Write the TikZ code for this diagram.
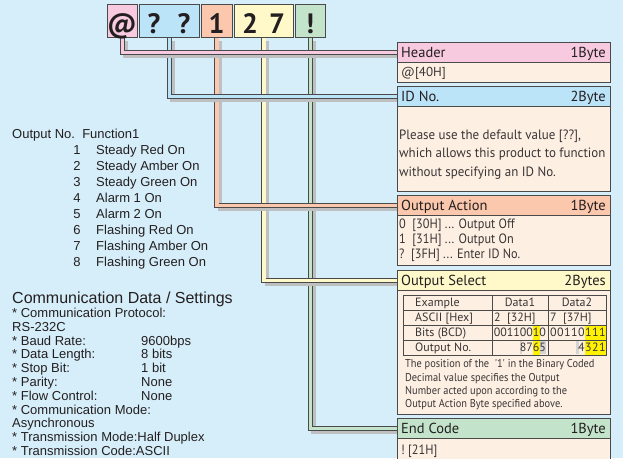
\documentclass[tikz,border=0pt]{standalone}
\usepackage{fontspec}
\setmainfont{Liberation Sans}
\newfontfamily\myr{PT Sans}
\newfontfamily\myrc[FakeStretch=0.91]{PT Sans}
\newfontfamily\myrd[FakeStretch=0.96]{PT Sans}
\definecolor{bgC}{HTML}{D6EEF9}
\definecolor{bdrC}{HTML}{4A4A4A}
\definecolor{shC}{HTML}{BDBFC1}
\definecolor{txtC}{HTML}{231F20}
\definecolor{ctxC}{HTML}{3A3535}
\definecolor{pinkC}{HTML}{F8CADF}
\definecolor{blueC}{HTML}{BCE4F8}
\definecolor{salmonC}{HTML}{FBC7AD}
\definecolor{yellowC}{HTML}{FFF9CA}
\definecolor{greenC}{HTML}{C3E4CA}
\definecolor{peachC}{HTML}{FDF0E3}
\definecolor{hiC}{HTML}{FFF200}
\definecolor{lgC}{HTML}{D4D4D4}
\begin{document}
\begin{tikzpicture}[x=1pt,y=-1pt,
  topbox/.style={draw=bdrC,line width=0.8pt,minimum height=33pt,inner sep=0pt,anchor=north west},
  bigchar/.style={font=\myr\bfseries\fontsize{28}{28}\selectfont,text=txtC,anchor=base,inner sep=0pt},
  wire/.style={draw=bdrC,line width=0.8pt,double distance=3.4pt},
  wshadow/.style={draw=shC,line width=4.5pt,transform canvas={xshift=3pt,yshift=-3pt}},
  tbar/.style={draw=bdrC,line width=0.8pt,minimum width=213pt,minimum height=20pt,inner sep=0pt,anchor=north west},
  cbox/.style={draw=bdrC,line width=0.8pt,fill=peachC,minimum width=213pt,inner sep=0pt,anchor=north west},
  ttl/.style={font=\myr\fontsize{14.5}{14.5}\selectfont,text=txtC,inner sep=0pt},
  ctext/.style={font=\myrc\fontsize{13.5}{13.5}\selectfont,text=ctxC,inner sep=0pt,anchor=base west},
  dtext/.style={font=\myrd\fontsize{13.5}{13.5}\selectfont,text=ctxC,inner sep=0pt,anchor=base west},
  stext/.style={font=\myrc\fontsize{11.4}{11.4}\selectfont,text=ctxC,inner sep=0pt,anchor=base west},
  tabtext/.style={font=\myr\fontsize{12}{12}\selectfont,text=ctxC,inner sep=0pt},
  ltext/.style={font=\fontsize{13}{13}\selectfont,text=txtC,inner sep=0pt,anchor=base west},
  tabline/.style={draw=bdrC,line width=0.9pt}]
\useasboundingbox (0,0) rectangle (623,458);
\fill[bgC] (0,0) rectangle (623,458);

% ---------- right title bars and top boxes (named first) ----------
\path
  node[tbar,fill=pinkC]   (hA) at (397,42)  {}
  node[tbar,fill=blueC]   (hB) at (397,86)  {}
  node[tbar,fill=salmonC] (hC) at (397,195) {}
  node[tbar,fill=yellowC] (hD) at (397,270) {}
  node[tbar,fill=greenC]  (hE) at (397,418) {};
\path
  node[topbox,fill=pinkC,minimum width=30pt]   (tA) at (107,4) {}
  node[topbox,fill=blueC,minimum width=60pt]   (tB) at (139,4) {}
  node[topbox,fill=salmonC,minimum width=31pt] (tC) at (201,4) {}
  node[topbox,fill=yellowC,minimum width=59pt] (tD) at (234,4) {}
  node[topbox,fill=greenC,minimum width=30pt]  (tE) at (295,4) {};

% ---------- wires ----------
\draw[wshadow] (tE.south) |- (hE.west);
\draw[wire,double=greenC] (tE.south) |- (hE.west);
\draw[wshadow] (tD.south) |- (hD.west);
\draw[wire,double=yellowC] (tD.south) |- (hD.west);
\draw[wshadow] (tC.south) |- (hC.west);
\draw[wire,double=salmonC] (tC.south) |- (hC.west);
\draw[wshadow] (tB.south) |- (hB.west);
\draw[wire,double=blueC] (tB.south) |- (hB.west);
\draw[wshadow] (tA.south) |- (hA.west);
\draw[wire,double=pinkC] (tA.south) |- (hA.west);

% ---------- top boxes redrawn over wire ends ----------
\path
  node[topbox,fill=pinkC,minimum width=30pt]   (tA2) at (107,4) {}
  node[topbox,fill=blueC,minimum width=60pt]   (tB2) at (139,4) {}
  node[topbox,fill=salmonC,minimum width=31pt] (tC2) at (201,4) {}
  node[topbox,fill=yellowC,minimum width=59pt] (tD2) at (234,4) {}
  node[topbox,fill=greenC,minimum width=30pt]  (tE2) at (295,4) {};
\node[bigchar] (cAt) at (122,33) {@};
\node[bigchar] (cQ1) at (154,33) {?};
\node[bigchar] (cQ2) at (184,33) {?};
\node[bigchar] (c1) at (216.5,33) {1};
\node[bigchar] (c2) at (250,33) {2};
\node[bigchar] (c7) at (277,33) {7};
\node[bigchar] (cEx) at (310,33) {!};

% ---------- right boxes ----------
\node[cbox,minimum height=20pt]  (bA) at (397,62)  {};
\node[cbox,minimum height=85pt]  (bB) at (397,106) {};
\node[cbox,minimum height=50pt]  (bC) at (397,215) {};
\node[cbox,minimum height=124pt] (bD) at (397,290) {};
\node[cbox,minimum height=40pt]  (bE) at (397,438) {};
\path
  node[tbar,fill=pinkC]   (hA3) at (397,42)  {}
  node[tbar,fill=blueC]   (hB3) at (397,86)  {}
  node[tbar,fill=salmonC] (hC3) at (397,195) {}
  node[tbar,fill=yellowC] (hD3) at (397,270) {}
  node[tbar,fill=greenC]  (hE3) at (397,418) {};

\node[ttl,anchor=base west] (lA) at (401,57) {Header};
\node[ttl,anchor=base east] (rA) at (606,57) {1Byte};
\node[ttl,anchor=base west] (lB) at (401,101) {ID No.};
\node[ttl,anchor=base east] (rB) at (606,101) {2Byte};
\node[ttl,anchor=base west] (lC) at (401,210) {Output Action};
\node[ttl,anchor=base east] (rC) at (606,210) {1Byte};
\node[ttl,anchor=base west] (lD) at (401,285) {Output Select};
\node[ttl,anchor=base east] (rD) at (606,285) {2Bytes};
\node[ttl,anchor=base west] (lE) at (401,433) {End Code};
\node[ttl,anchor=base east] (rE) at (606,433) {1Byte};

\node[ctext,font=\myr\fontsize{13}{13}\selectfont] (xA) at (401,76.5) {@[40H]};
\node[dtext] (xB1) at (399,139) {Please use the default value [??],};
\node[dtext] (xB2) at (399,157.5) {which allows this product to function};
\node[dtext] (xB3) at (399,176) {without specifying an ID No.};
\node[ctext] (xC1) at (399,228) {0\ \ [30H] ... Output Off};
\node[ctext] (xC2) at (399,243) {1\ \ [31H] ... Output On};
\node[ctext] (xC3) at (399,258) {?\ \ [3FH] ... Enter ID No.};
\node[ctext] (xE) at (401,454) {!\ [21H]};

% ---------- table ----------
\fill[hiC] (533,325) rectangle (539.5,340);
\fill[hiC] (533,340) rectangle (539.5,355);
\fill[hiC] (585,325) rectangle (606,340);
\fill[hiC] (585,340) rectangle (606,355);
\fill[lgC] (519.5,341) rectangle (522,354);
\fill[lgC] (539.5,341) rectangle (546,354);
\fill[lgC] (576,341) rectangle (578.5,354);
\draw[tabline] (403,295) rectangle (606,355);
\draw[tabline] (403,310) -- (606,310);
\draw[tabline] (403,325) -- (606,325);
\draw[tabline] (403,340) -- (606,340);
\draw[tabline] (492,295) -- (492,355);
\draw[tabline] (548,295) -- (548,355);

\node[tabtext,anchor=base west] (r1) at (415,306.5) {Example};
\node[tabtext,anchor=base west] (r2) at (415,321.5) {ASCII [Hex]};
\node[tabtext,anchor=base west] (r3) at (415,336.5) {Bits (BCD)};
\node[tabtext,anchor=base west] (r4) at (415,351.5) {Output No.};
\node[tabtext,anchor=base] (d1h) at (520,306.5) {Data1};
\node[tabtext,anchor=base] (d2h) at (577,306.5) {Data2};
\node[tabtext,anchor=base west] (d1a) at (494,321.5) {2\ \ [32H]};
\node[tabtext,anchor=base west] (d2a) at (550,321.5) {7\ \ [37H]};
\foreach \d [count=\k from 0] in {0,0,1,1,0,0,1,0}
  \node[tabtext,anchor=base] (bi\k) at ({497.25+6.5*\k},336.5) {\d};
\foreach \d [count=\k from 0] in {0,0,1,1,0,1,1,1}
  \node[tabtext,anchor=base] (bj\k) at ({553.5+7*\k},336.5) {\d};
\foreach \d [count=\k from 4] in {8,7,6,5}
  \node[tabtext,anchor=base] (oi\k) at ({497.25+6.5*\k},351.5) {\d};
\foreach \d [count=\k from 4] in {4,3,2,1}
  \node[tabtext,anchor=base] (oj\k) at ({553.5+7*\k},351.5) {\d};

\node[stext] (s1) at (405,367.5) {The position of the\ \ '1' in the Binary Coded};
\node[stext] (s2) at (405,381) {Decimal value specifies the Output};
\node[stext] (s3) at (405,394) {Number acted upon according to the};
\node[stext] (s4) at (405,407) {Output Action Byte specified above.};

% ---------- left texts ----------
\node[ltext] (oh) at (12,138.5) {Output No.\ \ Function1};
\foreach \t [count=\i] in {Steady Red On,Steady Amber On,Steady Green On,Alarm 1 On,Alarm 2 On,Flashing Red On,Flashing Amber On,Flashing Green On}{
  \node[ltext,anchor=base] (n\i) at (77,{138.5+16*\i}) {\i};
  \node[ltext] (f\i) at (96,{138.5+16*\i}) {\t};
}
\node[ltext,font=\fontsize{16}{16}\selectfont] (ct) at (12,303) {Communication Data / Settings};
\node[ltext] (c0) at (12,317.5) {* Communication Protocol:};
\node[ltext] (c1l) at (12,331.3) {RS-232C};
\node[ltext] (c2l) at (12,345.1) {* Baud Rate:};
\node[ltext] (c2v) at (141,345.1) {9600bps};
\node[ltext] (c3l) at (12,358.9) {* Data Length:};
\node[ltext] (c3v) at (141,358.9) {8 bits};
\node[ltext] (c4l) at (12,372.7) {* Stop Bit:};
\node[ltext] (c4v) at (141,372.7) {1 bit};
\node[ltext] (c5l) at (12,386.5) {* Parity:};
\node[ltext] (c5v) at (141,386.5) {None};
\node[ltext] (c6l) at (12,400.3) {* Flow Control:};
\node[ltext] (c6v) at (141,400.3) {None};
\node[ltext] (c7l) at (12,414.1) {* Communication Mode:};
\node[ltext] (c8l) at (12,427.9) {Asynchronous};
\node[ltext] (c9l) at (12,441.7) {* Transmission Mode:Half Duplex};
\node[ltext] (c10l) at (12,455.5) {* Transmission Code:ASCII};
\end{tikzpicture}
\end{document}
